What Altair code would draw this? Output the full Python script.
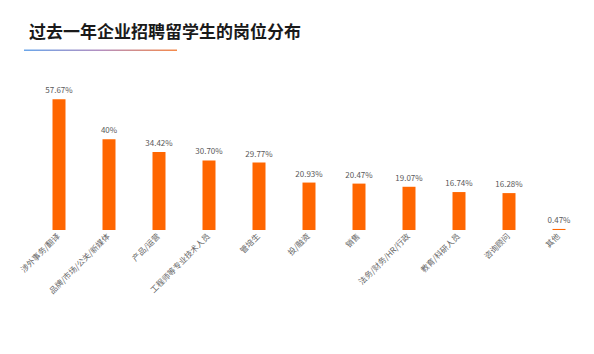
import altair as alt
import pandas as pd

categories = ["涉外事务/翻译", "品牌/市场/公关/新媒体", "产品/运营", "工程师等专业技术人员", "管培生",
              "投/融资", "销售", "法务/财务/HR/行政", "教育/科研人员", "咨询顾问", "其他"]
values = [57.67, 40.0, 34.42, 30.70, 29.77, 20.93, 20.47, 19.07, 16.74, 16.28, 0.47]
labels = ["57.67%", "40%", "34.42%", "30.70%", "29.77%", "20.93%", "20.47%", "19.07%", "16.74%", "16.28%", "0.47%"]
title_text = "过去一年企业招聘留学生的岗位分布"

df = pd.DataFrame({"cat": categories, "val": values, "lab": labels})
FONT = "Noto Sans CJK SC"

x = alt.X("cat:N", sort=categories, title=None,
          scale=alt.Scale(paddingInner=0, paddingOuter=0),
          axis=alt.Axis(labelAngle=-45, labelAlign="right", labelBaseline="middle",
                        labelFontSize=8, labelColor="#666666", labelFont=FONT,
                        labelPadding=5, domain=False, ticks=False, labelLimit=300))
y = alt.Y("val:Q", scale=alt.Scale(domain=[0, 60]), axis=None)

bars = alt.Chart(df).mark_bar(size=13, color="#FF6600").encode(x=x, y=y)
texts = alt.Chart(df).mark_text(dy=-8, fontSize=8, color="#595959", font=FONT).encode(
    x=alt.X("cat:N", sort=categories), y="val:Q", text="lab:N")

title = alt.Chart(pd.DataFrame({"t": [title_text]})).mark_text(
    align="left", baseline="middle", fontSize=17, fontWeight="bold", color="#1a1a1a", font=FONT
).encode(x=alt.value(-5), y=alt.value(-61), text="t:N")

underline = alt.Chart(pd.DataFrame({"a": [0]})).mark_rect(
    fill={"gradient": "linear", "x1": 0, "y1": 0, "x2": 1, "y2": 0,
          "stops": [{"offset": 0, "color": "#6aa6ea"},
                    {"offset": 0.5, "color": "#b48fc0"},
                    {"offset": 1, "color": "#f58a4a"}]}
).encode(x=alt.value(-10), x2=alt.value(143), y=alt.value(-44.5), y2=alt.value(-43))

chart = alt.layer(bars, texts, title, underline).properties(
    width=550, height=136,
    autosize=alt.AutoSizeParams(type="none"),
    padding={"left": 34, "top": 94, "right": 10, "bottom": 124},
    background="white"
).configure_view(strokeWidth=0)

chart.save("out.html", embed_options={"renderer": "svg", "actions": False})
